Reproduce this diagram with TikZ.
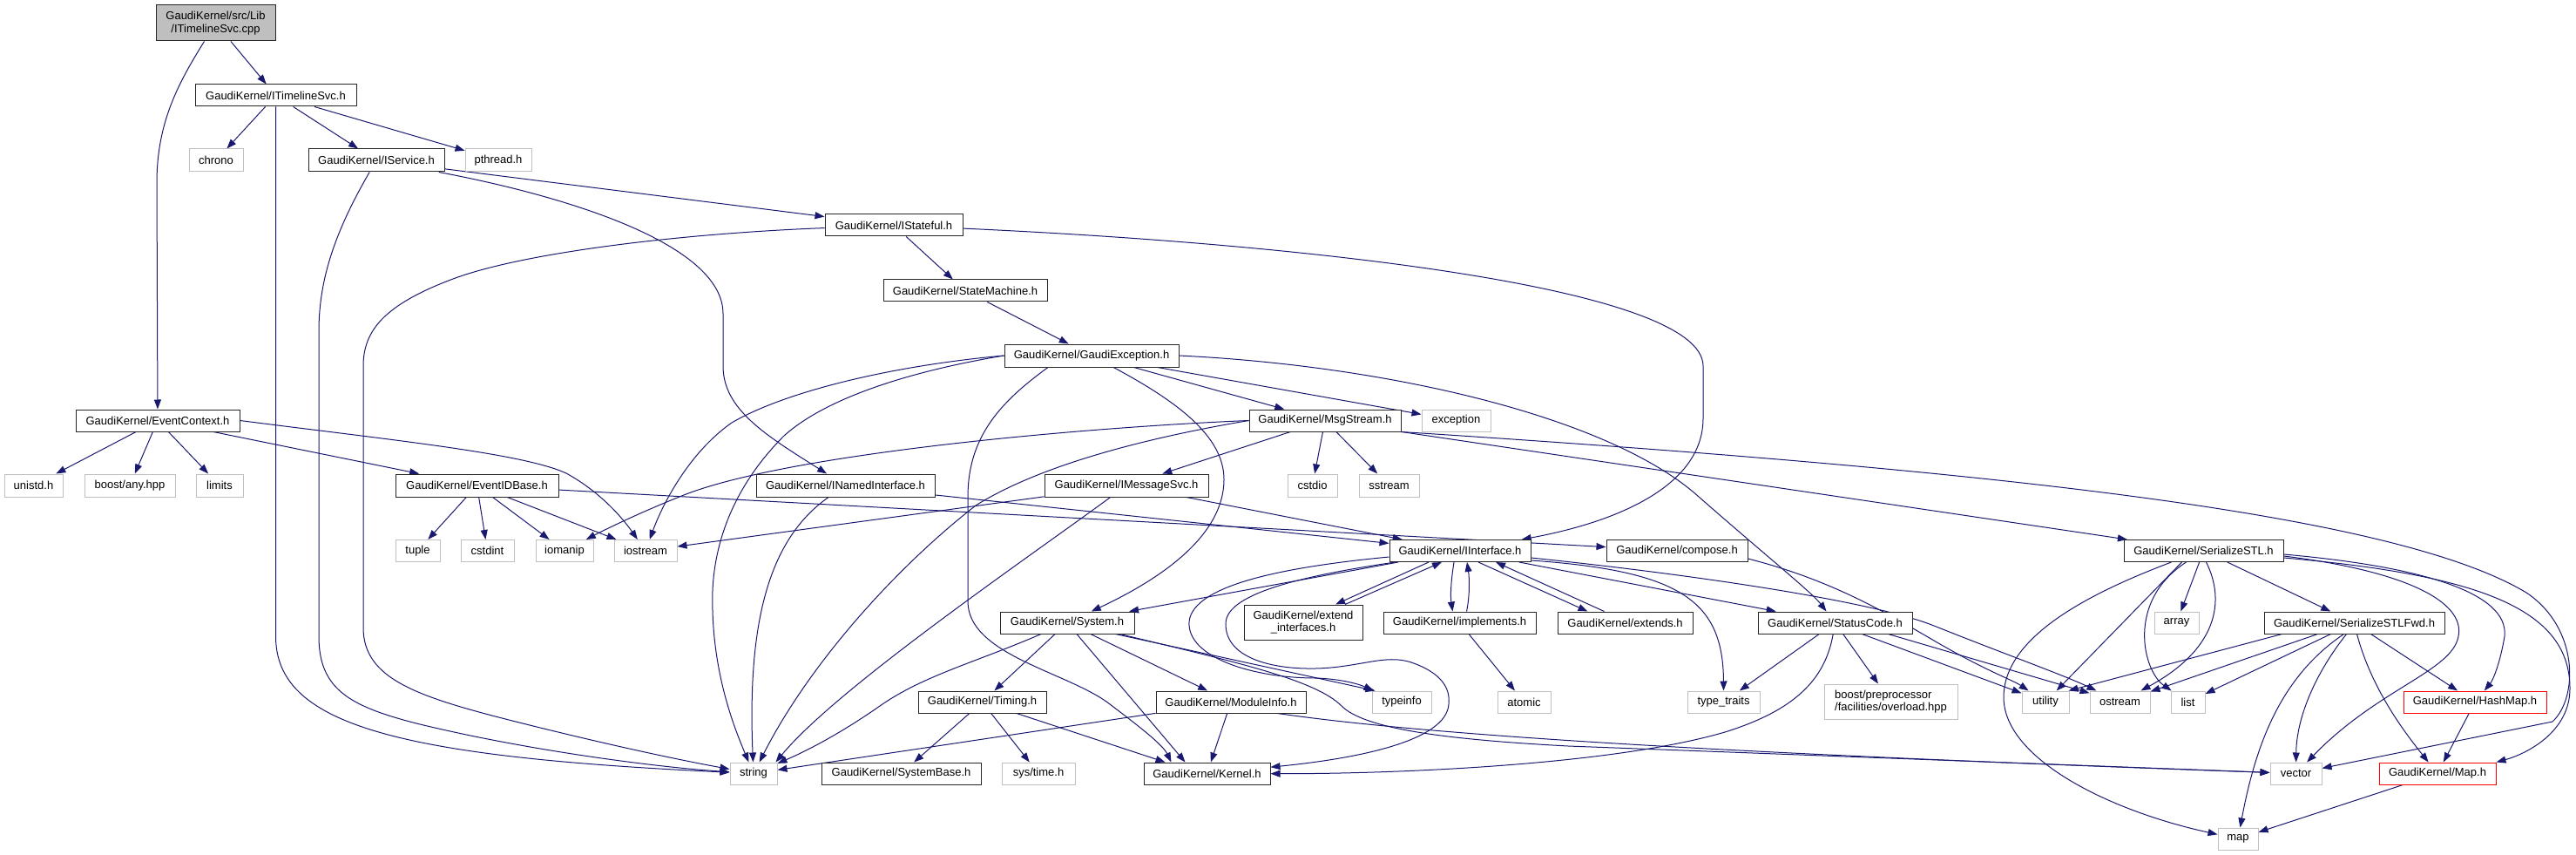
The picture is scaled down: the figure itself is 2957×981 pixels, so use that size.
\documentclass[tikz,border=0pt]{standalone}
\usepackage{fontspec}
\setmainfont{Liberation Sans}
\usetikzlibrary{arrows.meta,calc,backgrounds}
\definecolor{edgec}{HTML}{191970}
\definecolor{extc}{HTML}{BFBFBF}
\definecolor{rootc}{HTML}{BFBFBF}
\newcommand\nfont{\fontsize{13}{14.5}\selectfont}
\tikzset{
  box/.style={draw=black!85, line width=1.0pt, fill=white, inner sep=0pt, font=\nfont, align=center, rectangle},
  extbox/.style={box, draw=extc},
  redbox/.style={box, draw=red},
  edg/.style={draw=edgec, line width=1.0pt, -{Triangle[length=11pt,width=8pt]}, fill=none}
}
\begin{document}
\begin{tikzpicture}[x=1pt,y=-1pt]
\useasboundingbox (0,0) rectangle (2957,981);
% nodes
\node[box, fill=rootc, minimum width=137, minimum height=41] (root) at (247.5,26.5) {GaudiKernel/src/Lib\\/ITimelineSvc.cpp};
\node[box, minimum width=185, minimum height=25] (its) at (316.5,109.5) {GaudiKernel/ITimelineSvc.h};
\node[extbox, minimum width=62, minimum height=26] (chrono) at (248,184) {chrono};
\node[box, minimum width=156, minimum height=26] (isvc) at (432,184) {GaudiKernel/IService.h};
\node[extbox, minimum width=76, minimum height=26] (pthr) at (572,184) {pthread.h};
\node[box, minimum width=158, minimum height=25] (istf) at (1026,258.5) {GaudiKernel/IStateful.h};
\node[box, minimum width=188, minimum height=25] (stm) at (1108,333.5) {GaudiKernel/StateMachine.h};
\node[box, minimum width=200, minimum height=26] (gexc) at (1253,408) {GaudiKernel/GaudiException.h};
\node[box, minimum width=188, minimum height=25] (evc) at (181,482.5) {GaudiKernel/EventContext.h};
\node[extbox, minimum width=67, minimum height=26] (unistd) at (38.5,557) {unistd.h};
\node[extbox, minimum width=104, minimum height=26] (bany) at (149,557) {boost/any.hpp};
\node[extbox, minimum width=54, minimum height=26] (limits) at (252,557) {limits};
\node[box, minimum width=187, minimum height=26] (eidb) at (547.5,557) {GaudiKernel/EventIDBase.h};
\node[extbox, minimum width=51, minimum height=25] (tuple) at (479.5,632) {tuple};
\node[extbox, minimum width=61, minimum height=25] (cstdint) at (559.5,632) {cstdint};
\node[extbox, minimum width=66, minimum height=25] (iomanip) at (648,632) {iomanip};
\node[extbox, minimum width=72, minimum height=25] (iostream) at (741,632) {iostream};
\node[box, minimum width=205, minimum height=26] (nint) at (970.5,557) {GaudiKernel/INamedInterface.h};
\node[box, minimum width=174, minimum height=25] (msg) at (1521,482.5) {GaudiKernel/MsgStream.h};
\node[extbox, minimum width=79, minimum height=25] (exc) at (1671.5,482.5) {exception};
\node[box, minimum width=188, minimum height=26] (imsg) at (1293,557) {GaudiKernel/IMessageSvc.h};
\node[extbox, minimum width=57, minimum height=26] (cstdio) at (1506.5,557) {cstdio};
\node[extbox, minimum width=69, minimum height=26] (sstream) at (1594.5,557) {sstream};
\node[box, minimum width=162, minimum height=25] (iif) at (1676,632) {GaudiKernel/IInterface.h};
\node[box, minimum width=162, minimum height=25] (comp) at (1925,632) {GaudiKernel/compose.h};
\node[box, minimum width=183, minimum height=25] (sstl) at (2529.5,632) {GaudiKernel/SerializeSTL.h};
\node[box, minimum width=154, minimum height=25] (sys) at (1225,714.5) {GaudiKernel/System.h};
\node[box, minimum width=136, minimum height=40] (exti) at (1496,714) {GaudiKernel/extend\\\_interfaces.h};
\node[box, minimum width=175, minimum height=25] (impl) at (1675.5,714.5) {GaudiKernel/implements.h};
\node[box, minimum width=155, minimum height=25] (exts) at (1865.5,714.5) {GaudiKernel/extends.h};
\node[box, minimum width=177, minimum height=25] (stc) at (2106.5,714.5) {GaudiKernel/StatusCode.h};
\node[box, minimum width=207, minimum height=25] (sfwd) at (2702.5,714.5) {GaudiKernel/SerializeSTLFwd.h};
\node[extbox, minimum width=51, minimum height=25] (array) at (2498.5,714.5) {array};
\node[box, minimum width=147, minimum height=25] (timing) at (1127.5,805.5) {GaudiKernel/Timing.h};
\node[box, minimum width=172, minimum height=25] (modi) at (1413,805.5) {GaudiKernel/ModuleInfo.h};
\node[extbox, minimum width=68, minimum height=25] (typeinfo) at (1609,805.5) {typeinfo};
\node[extbox, minimum width=61, minimum height=25] (atomic) at (1749.5,805.5) {atomic};
\node[extbox, minimum width=83, minimum height=25] (ttr) at (1978.5,805.5) {type\_traits};
\node[extbox, minimum width=153, minimum height=40, align=left] (bpp) at (2170.5,805) {boost/preprocessor\\/facilities/overload.hpp};
\node[extbox, minimum width=54, minimum height=25] (utility) at (2348,805.5) {utility};
\node[extbox, minimum width=69, minimum height=25] (ostream) at (2433.5,805.5) {ostream};
\node[extbox, minimum width=39, minimum height=25] (list) at (2511.5,805.5) {list};
\node[redbox, minimum width=164, minimum height=25] (hash) at (2841,805.5) {GaudiKernel/HashMap.h};
\node[extbox, minimum width=54, minimum height=25] (string) at (865,887.5) {string};
\node[box, minimum width=183, minimum height=25] (sysb) at (1034.5,887.5) {GaudiKernel/SystemBase.h};
\node[extbox, minimum width=84, minimum height=25] (systime) at (1192,887.5) {sys/time.h};
\node[box, minimum width=145, minimum height=25] (kernel) at (1385.5,887.5) {GaudiKernel/Kernel.h};
\node[extbox, minimum width=59, minimum height=25] (vector) at (2635.5,887.5) {vector};
\node[redbox, minimum width=134, minimum height=25] (maph) at (2798,887.5) {GaudiKernel/Map.h};
\node[extbox, minimum width=46, minimum height=25] (map) at (2569,962.5) {map};
% edges
\begin{pgfonlayer}{background}
\draw[edg] (root) -- (its);
\draw[edg] (root) .. controls (205,95) and (180,140) .. (180,210) -- (evc);
\draw[edg] (its) -- (chrono);
\draw[edg] (its) -- (isvc);
\draw[edg] (its) -- (pthr);
\draw[edg] (its.south) -- (316.5,730) .. controls (316.5,830) and (450,868) .. (string);
\draw[edg] (isvc) .. controls (385,265) and (366,320) .. (366,380) -- (366,730) .. controls (366,790) and (400,810) .. (478,830) .. controls (600,860) and (750,880) .. (string);
\draw[edg] (istf) .. controls (780,268) and (600,290) .. (520,320) .. controls (440,350) and (417,380) .. (417,420) -- (417,720) .. controls (417,780) and (480,800) .. (600,830) .. controls (700,855) and (780,872) .. (string);
\draw[edg] (isvc) -- (istf);
\draw[edg] (isvc) .. controls (650,225) and (830,280) .. (830,360) -- (830,420) .. controls (830,470) and (880,500) .. (nint);
\draw[edg] (istf) -- (stm);
\draw[edg] (istf) .. controls (1500,280) and (1955,330) .. (1955,420) -- (1955,480) .. controls (1955,560) and (1850,600) .. (iif);
\draw[edg] (stm) -- (gexc);
\draw[edg] (gexc) -- (exc);
\draw[edg] (gexc) -- (msg);
\draw[edg] (gexc) .. controls (1350,460) and (1405,500) .. (1405,550) .. controls (1405,620) and (1320,670) .. (sys);
\draw[edg] (gexc.east) .. controls (1600,420) and (1850,480) .. (1950,570) .. controls (2030,640) and (2080,680) .. (stc);
\draw[edg] ($(gexc.south)+(-50,0)$) .. controls (1150,460) and (1111,500) .. (1111,570) -- (1111,690) .. controls (1111,750) and (1220,770) .. (1270,805) .. controls (1310,835) and (1335,855) .. ($(kernel.north west)+(32,0)$);
\draw[edg] (gexc.west) .. controls (1020,420) and (900,450) .. (840,485) .. controls (790,520) and (760,580) .. (iostream);
\draw[edg] (gexc.west) .. controls (1050,425) and (950,455) .. (900,500) .. controls (840,560) and (815,630) .. (818,700) .. controls (820,780) and (845,840) .. (string);
\draw[edg] (msg) -- (imsg);
\draw[edg] (msg) -- (cstdio);
\draw[edg] (msg) -- (sstream);
\draw[edg] (msg.west) .. controls (1250,490) and (900,520) .. (780,570) .. controls (730,590) and (690,610) .. (iomanip);
\draw[edg] (msg.west) .. controls (1330,500) and (1200,530) .. (1120,580) .. controls (1030,650) and (930,760) .. (string);
\draw[edg] (msg) -- (sstl);
\draw[edg] (msg.south east) .. controls (2300,540) and (2750,590) .. (2900,680) .. controls (2960,720) and (2960,800) .. (2930,828) -- (vector);
\draw[edg] (imsg) -- (iif);
\draw[edg] (imsg) -- (iostream);
\draw[edg] (imsg) .. controls (1180,640) and (960,790) .. ($(string.north east)+(-2,0)$);
\draw[edg] (evc) -- (unistd);
\draw[edg] (evc) -- (bany);
\draw[edg] (evc) -- (limits);
\draw[edg] (evc) -- (eidb);
\draw[edg] (evc.east) .. controls (450,505) and (600,520) .. (650,543) .. controls (690,565) and (715,595) .. (iostream);
\draw[edg] (eidb) -- (tuple);
\draw[edg] (eidb) -- (cstdint);
\draw[edg] (eidb) -- (iomanip);
\draw[edg] (eidb) -- (iostream);
\draw[edg] (eidb) -- (comp);
\draw[edg] (nint) -- (iif);
\draw[edg] (nint) .. controls (880,620) and (858,720) .. (string);
\draw[edg] (iif) -- (sys);
\draw[edg] ($(iif.south)+(-36,0)$) -- ($(exti.north)+(37,0)$);
\draw[edg] ($(exti.north)+(48,0)$) -- ($(iif.south)+(-21,0)$);
\draw[edg] ($(iif.south)+(-7,0)$) .. controls (1665,670) and (1665,685) .. ($(impl.north)+(-8,0)$);
\draw[edg] ($(impl.north)+(8,0)$) .. controls (1687,685) and (1687,665) .. ($(iif.south)+(8,0)$);
\draw[edg] ($(iif.south)+(21,0)$) -- ($(exts.north west)+(35,0)$);
\draw[edg] ($(exts.north west)+(54,0)$) -- ($(iif.south)+(41,0)$);
\draw[edg] (iif) -- (stc);
\draw[edg] ($(iif.south east)+(0,-2)$) .. controls (1930,655) and (1978,690) .. (ttr.north);
\draw[edg] ($(iif.east)+(0,8)$) .. controls (1950,660) and (2150,690) .. (2220,718) .. controls (2300,750) and (2370,775) .. (ostream);
\draw[edg] ($(iif.west)+(0,7)$) .. controls (1480,650) and (1370,670) .. (1365,713) .. controls (1362,755) and (1440,778) .. (1510,778) .. controls (1540,779) and (1560,785) .. ($(typeinfo.north west)+(2,0)$);
\draw[edg] ($(iif.south west)+(7,0)$) .. controls (1500,660) and (1408,680) .. (1407,715) .. controls (1406,755) and (1460,768) .. (1510,767) .. controls (1560,766) and (1590,750) .. (1620,760) .. controls (1655,772) and (1665,790) .. (1663,808) .. controls (1660,850) and (1560,870) .. (kernel);
\draw[edg] (impl) -- (atomic);
\draw[edg] (sys) -- (timing);
\draw[edg] (sys) -- (modi);
\draw[edg] (sys) -- ($(kernel.north west)+(48,0)$);
\draw[edg] (sys) .. controls (1120,760) and (1060,775) .. (1010,810) .. controls (970,838) and (930,860) .. (string);
\draw[edg] ($(sys.south east)+(-22,0)$) -- ($(typeinfo.north west)+(4,0)$);
\draw[edg] ($(sys.south east)+(-17,0)$) .. controls (1420,760) and (1510,780) .. (1540,810) .. controls (1565,835) and (1650,848) .. (1800,856) -- (vector);
\draw[edg] (modi) -- (string);
\draw[edg] (modi) -- (kernel);
\draw[edg] ($(modi.south east)+(-33,0)$) .. controls (1650,845) and (2000,865) .. (vector);
\draw[edg] (timing) -- (sysb);
\draw[edg] (timing) -- (systime);
\draw[edg] (timing) -- ($(kernel.north west)+(25,0)$);
\draw[edg] (stc) -- (ttr);
\draw[edg] (stc) -- (bpp);
\draw[edg] ($(stc.south east)+(-58,0)$) -- (utility);
\draw[edg] ($(stc.south east)+(-28,0)$) -- (ostream);
\draw[edg] (stc) .. controls (2095,780) and (2060,815) .. (1980,840) .. controls (1850,878) and (1600,888) .. (kernel);
\draw[edg] ($(comp.east)+(0,9)$) .. controls (2100,665) and (2160,700) .. (2220,735) .. controls (2280,770) and (2310,780) .. (utility);
\draw[edg] (sstl) -- (array);
\draw[edg] (sstl) -- (sfwd);
\draw[edg] ($(sstl.south)+(-20,0)$) .. controls (2440,690) and (2460,770) .. (list);
\draw[edg] ($(sstl.south)+(3,0)$) .. controls (2555,690) and (2545,745) .. (ostream);
\draw[edg] ($(sstl.south)+(-25,0)$) -- (utility);
\draw[edg] ($(sstl.south)+(-37,0)$) .. controls (2400,680) and (2300,730) .. (2300,800) .. controls (2300,870) and (2420,930) .. (map);
\draw[edg] ($(sstl.east)+(0,4)$) .. controls (2780,650) and (2880,680) .. (2875,730) .. controls (2870,760) and (2862,780) .. (hash);
\draw[edg] ($(sstl.east)+(0,6)$) .. controls (2760,655) and (2830,690) .. (2822,730) .. controls (2815,770) and (2730,790) .. (vector);
\draw[edg] ($(sstl.east)+(0,8)$) .. controls (2850,660) and (2950,700) .. (2950,790) .. controls (2950,840) and (2900,865) .. (maph.north east);
\draw[edg] ($(sfwd.south west)+(21,0)$) -- ($(utility.north east)+(-1,0)$);
\draw[edg] ($(sfwd.south west)+(62,0)$) -- (ostream);
\draw[edg] ($(sfwd.south west)+(77,0)$) -- (list);
\draw[edg] ($(sfwd.south)+(-12,0)$) .. controls (2620,775) and (2590,850) .. (map);
\draw[edg] ($(sfwd.south)+(-9,0)$) .. controls (2652,780) and (2636,830) .. (vector);
\draw[edg] ($(sfwd.south)+(3,0)$) .. controls (2722,790) and (2760,840) .. (maph);
\draw[edg] ($(sfwd.south)+(19,0)$) -- (hash);
\draw[edg] (hash) -- (maph);
\draw[edg] (maph) -- (map);
\end{pgfonlayer}
\end{tikzpicture}
\end{document}
